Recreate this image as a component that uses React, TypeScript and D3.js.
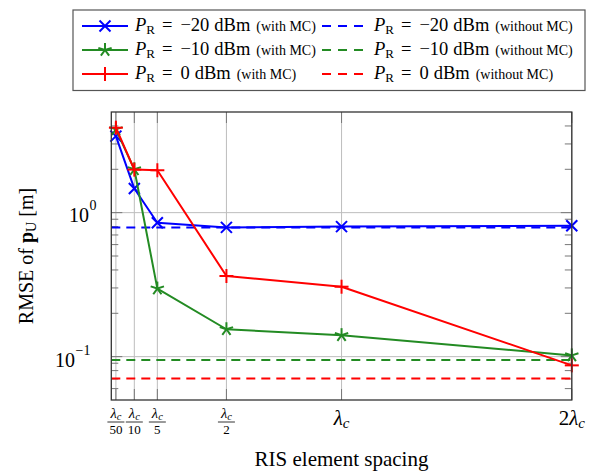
import React from "react";
import * as d3 from "d3";

const xVals = [0.02, 0.1, 0.2, 0.5, 1, 2];
const xTickNum = ["λ", "λ", "λ", "λ", "", "2"];
const xTickDen = ["50", "10", "5", "2", "", ""];
const mc20 = [3.4, 1.47, 0.85, 0.79, 0.8, 0.81];
const mc10 = [3.79, 2.0, 0.297, 0.155, 0.141, 0.102];
const mc0 = [3.89, 1.99, 1.97, 0.363, 0.306, 0.087];
const noMcVals = [0.79, 0.0948, 0.0705];
const seriesColors = ["#0000ff", "#238b23", "#ff0000"];
const powerLabels = ["−20", "−10", "0"];
const yMajor = [0.1, 1];

const W = 592, H = 473;
const L = 111.3, R = 571.8, T = 112, B = 400;
const FONT = "'Liberation Serif', 'DejaVu Serif', serif";

function Marker({ kind, x, y, color }: { kind: number; x: number; y: number; color: string }) {
  const s = 5.5;
  if (kind === 0) {
    return (
      <g stroke={color} strokeWidth={2}>
        <line x1={x - s} y1={y - s} x2={x + s} y2={y + s} />
        <line x1={x - s} y1={y + s} x2={x + s} y2={y - s} />
      </g>
    );
  }
  if (kind === 1) {
    const arms = d3.range(5).map((i) => {
      const a = -Math.PI / 2 + (i * 2 * Math.PI) / 5;
      return [x + Math.cos(a) * 7, y + Math.sin(a) * 7];
    });
    return (
      <g stroke={color} strokeWidth={2}>
        {arms.map((p, i) => (
          <line key={i} x1={x} y1={y} x2={p[0]} y2={p[1]} />
        ))}
      </g>
    );
  }
  return (
    <g stroke={color} strokeWidth={2}>
      <line x1={x - 7} y1={y} x2={x + 7} y2={y} />
      <line x1={x} y1={y - 7} x2={x} y2={y + 7} />
    </g>
  );
}

function PR({ x, y, power, note }: { x: number; y: number; power: string; note: string }) {
  return (
    <text x={x} y={y} fontFamily={FONT} fontSize={18.5} fill="#000">
      <tspan fontStyle="italic">P</tspan>
      <tspan fontSize={13} dy={3}>R</tspan>
      <tspan dy={-3} dx={7}>=</tspan>
      <tspan dx={8}>{power}</tspan>
      <tspan dx={5}>dBm</tspan>
      <tspan dx={6} fontSize={14}>{note}</tspan>
    </text>
  );
}

export default function App() {
  const x = d3.scaleLinear().domain([0, 2]).range([L, R]);
  const y = d3.scaleLog().domain([0.05, 5]).range([B, T]);
  const series = [mc20, mc10, mc0];
  const line = d3
    .line<number>()
    .x((_, i) => x(xVals[i]))
    .y((d) => y(d));

  const minor: number[] = [];
  [0.01, 0.1, 1].forEach((dec) => {
    for (let k = 2; k <= 9; k++) {
      const v = dec * k;
      if (v > 0.05 && v < 5 && Math.abs(v - 0.1) > 1e-9 && Math.abs(v - 1) > 1e-9) minor.push(v);
    }
  });

  const rows = [31, 55, 79];

  return (
    <svg width={W} height={H} style={{ position: "absolute", left: 0, top: 0, background: "#fff" }}>
      <rect width={W} height={H} fill="#fff" />
      {/* grid */}
      {xVals.map((v, i) => (
        <line key={"gx" + i} x1={x(v)} x2={x(v)} y1={T} y2={B} stroke="#bdbdbd" strokeWidth={1} />
      ))}
      {yMajor.map((v, i) => (
        <line key={"gy" + i} x1={L} x2={R} y1={y(v)} y2={y(v)} stroke="#bdbdbd" strokeWidth={1} />
      ))}
      {/* ticks */}
      {minor.map((v, i) => (
        <g key={"mt" + i} stroke="#777" strokeWidth={1}>
          <line x1={L} x2={L + 7} y1={y(v)} y2={y(v)} />
          <line x1={R - 7} x2={R} y1={y(v)} y2={y(v)} />
        </g>
      ))}
      {yMajor.map((v, i) => (
        <g key={"Mt" + i} stroke="#777" strokeWidth={1}>
          <line x1={L} x2={L + 11} y1={y(v)} y2={y(v)} />
          <line x1={R - 11} x2={R} y1={y(v)} y2={y(v)} />
        </g>
      ))}
      {xVals.map((v, i) => (
        <g key={"xt" + i} stroke="#777" strokeWidth={1}>
          <line x1={x(v)} x2={x(v)} y1={B} y2={B - 11} />
          <line x1={x(v)} x2={x(v)} y1={T} y2={T + 11} />
        </g>
      ))}
      {/* without MC */}
      {noMcVals.map((v, i) => (
        <line
          key={"nm" + i}
          x1={x(0)}
          x2={x(2)}
          y1={y(v)}
          y2={y(v)}
          stroke={seriesColors[i]}
          strokeWidth={2}
          strokeDasharray="9 6"
        />
      ))}
      {/* with MC */}
      {series.map((s, si) => (
        <g key={"s" + si}>
          <path d={line(s) || ""} fill="none" stroke={seriesColors[si]} strokeWidth={2} strokeLinejoin="round" />
          {s.map((v, i) => (
            <Marker key={i} kind={si} x={x(xVals[i])} y={y(v)} color={seriesColors[si]} />
          ))}
        </g>
      ))}
      {/* frame */}
      <rect x={L} y={T} width={R - L} height={B - T} fill="none" stroke="#333" strokeWidth={1.3} />
      {/* y tick labels */}
      <text x={89} y={221.5} fontFamily={FONT} fontSize={20} textAnchor="end">10</text>
      <text x={89.5} y={210} fontFamily={FONT} fontSize={14}>0</text>
      <text x={75} y={366.5} fontFamily={FONT} fontSize={20} textAnchor="end">10</text>
      <text x={75.5} y={355} fontFamily={FONT} fontSize={14}>−1</text>
      {/* x tick labels */}
      {xVals.map((v, i) => {
        const cx = x(v);
        if (xTickDen[i]) {
          return (
            <g key={"xl" + i} fontFamily={FONT}>
              <text x={cx} y={418} textAnchor="middle" fontSize={14.5}>
                <tspan fontStyle="italic">λ</tspan>
                <tspan fontStyle="italic" fontSize={10.5} dy={2}>c</tspan>
              </text>
              <line x1={cx - 8.5} x2={cx + 8.5} y1={422} y2={422} stroke="#000" strokeWidth={0.8} />
              <text x={cx} y={433.5} textAnchor="middle" fontSize={13}>{xTickDen[i]}</text>
            </g>
          );
        }
        return (
          <text key={"xl" + i} x={cx} y={425} textAnchor="middle" fontFamily={FONT} fontSize={21}>
            <tspan>{xTickNum[i]}</tspan>
            <tspan fontStyle="italic">λ</tspan>
            <tspan fontStyle="italic" fontSize={15} dy={3}>c</tspan>
          </text>
        );
      })}
      {/* axis labels */}
      <text x={341.5} y={466} textAnchor="middle" fontFamily={FONT} fontSize={21}>RIS element spacing</text>
      <text transform="translate(33,256) rotate(-90)" textAnchor="middle" fontFamily={FONT} fontSize={20}>
        <tspan>RMSE of </tspan>
        <tspan fontWeight="bold">p</tspan>
        <tspan fontSize={14} dy={3}>U</tspan>
        <tspan dy={-3}> [m]</tspan>
      </text>
      {/* legend */}
      <rect x={73} y={10} width={512} height={80.5} fill="#fff" stroke="#555" strokeWidth={1.2} />
      {seriesColors.map((c, i) => (
        <g key={"lg" + i}>
          <line x1={82} x2={128} y1={rows[i] - 5} y2={rows[i] - 5} stroke={c} strokeWidth={2} />
          <Marker kind={i} x={105} y={rows[i] - 5} color={c} />
          <PR x={135} y={rows[i]} power={powerLabels[i]} note="(with MC)" />
          <line x1={322} x2={364} y1={rows[i] - 5} y2={rows[i] - 5} stroke={c} strokeWidth={2} strokeDasharray="9 7" />
          <PR x={374} y={rows[i]} power={powerLabels[i]} note="(without MC)" />
        </g>
      ))}
    </svg>
  );
}
